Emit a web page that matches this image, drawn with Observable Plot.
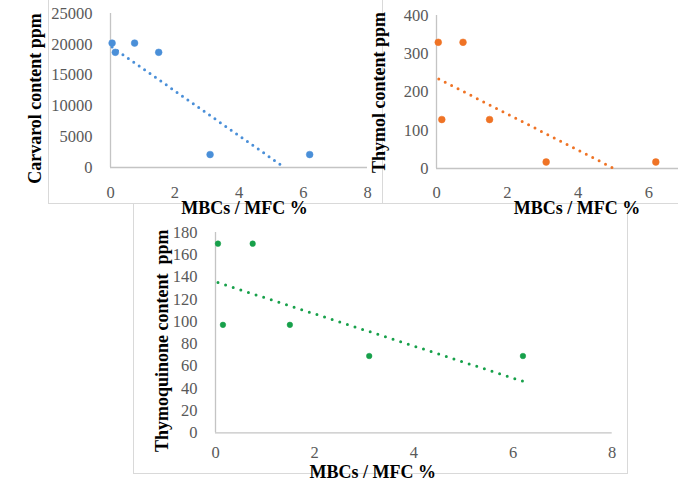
<!DOCTYPE html>
<html>
<head>
<meta charset="utf-8">
<script src="https://cdn.jsdelivr.net/npm/d3@7"></script>
<script src="https://cdn.jsdelivr.net/npm/@observablehq/plot@0.6"></script>
<style>
  html, body { margin: 0; padding: 0; background: #fff; }
  #wrap { position: relative; width: 678px; height: 478px; overflow: hidden; background: #fff; }
  .frame { position: absolute; border: 1px solid #d9d9d9; box-sizing: border-box; }
  .panel { position: absolute; }
  .panel svg { max-width: none !important; }
</style>
</head>
<body>
<div id="wrap">
  <div class="frame" style="left:48px; top:-5px; width:335px; height:209px;"></div>
  <div class="frame" style="left:382px; top:-5px; width:320px; height:209px;"></div>
  <div class="frame" style="left:133px; top:203px; width:495px; height:271px;"></div>
  <div class="panel" id="p1" style="left:0px; top:0px; width:382px; height:220px;"></div>
  <div class="panel" id="p2" style="left:350px; top:0px; width:369px; height:220px;"></div>
  <div class="panel" id="p3" style="left:130px; top:220px; width:500px; height:258px;"></div>
</div>
<script>
// ---- data ----
const mbc = [0.05, 0.15, 0.75, 1.5, 3.1, 6.2];            // MBCs / MFC %
const carvacrol = [20200, 18700, 20200, 18700, 2100, 2100]; // ppm
const thymol = [330, 128, 330, 128, 17, 17];               // ppm
const thymoquinone = [170, 97, 170, 97, 69, 69];            // ppm

// linear trendline end points (as drawn in the reference)
const carvacrolTrendX = [0.05, 5.42];
const carvacrolTrendY = [19550, 0];
const thymolTrendX = [0.065, 5.02];
const thymolTrendY = [234, 0];
const thymoquinoneTrendX = [0.05, 6.22];
const thymoquinoneTrendY = [135, 46];

const xTicksFull = [0, 2, 4, 6, 8];
const xTicksCut = [0, 2, 4, 6];
const carvacrolTicks = [0, 5000, 10000, 15000, 20000, 25000];
const thymolTicks = [0, 100, 200, 300, 400];
const thymoquinoneTicks = [0, 20, 40, 60, 80, 100, 120, 140, 160, 180];

const xTitle = "MBCs / MFC %";
const titles = ["Carvarol content ppm", "Thymol content ppm", "Thymoquinone content  ppm"];
const colors = ["#4a8fd8", "#ef7325", "#17a04a"];

function panel(o) {
  const pts = o.x.map((d, i) => ({x: d, y: o.y[i]}));
  const trend = o.tx.map((d, i) => ({x: d, y: o.ty[i]}));
  return Plot.plot({
    width: o.width, height: o.height,
    marginLeft: o.ml, marginRight: o.mr, marginTop: o.mt, marginBottom: o.mb,
    style: {fontFamily: "'Liberation Serif', 'Times New Roman', serif", fontSize: "16.5px", color: "#595959", background: "transparent", overflow: "visible", maxWidth: "none"},
    x: {domain: [0, 8]},
    y: {domain: o.yDomain},
    marks: [
      Plot.ruleY([0], {stroke: "#c4c4c4", strokeWidth: 1.3}),
      Plot.ruleX([0], {stroke: "#c4c4c4", strokeWidth: 1.3}),
      Plot.axisX({ticks: o.xTicks, tickSize: 0, tickPadding: o.xPad, label: null, tickFormat: d => String(d)}),
      Plot.axisY({ticks: o.yTicks, tickSize: 0, tickPadding: o.yPad, label: null, tickFormat: d => String(d)}),
      Plot.line(trend, {x: "x", y: "y", stroke: o.color, strokeWidth: 3, strokeDasharray: o.dash, strokeLinecap: "round"}),
      Plot.dot(pts, {x: "x", y: "y", r: o.r, fill: o.color, stroke: o.color, strokeWidth: 0.5}),
      Plot.text([xTitle], {frameAnchor: "bottom", dx: o.xtdx, dy: o.xtdy, lineAnchor: "middle", fontSize: 18, fontWeight: "bold", fill: "#000"}),
      Plot.text([o.title], {frameAnchor: "left", rotate: -90, dx: o.ytdx, dy: o.ytdy, textAnchor: "middle", lineAnchor: "middle", fontSize: 18, fontWeight: "bold", fill: "#000"})
    ]
  });
}

document.getElementById("p1").append(panel({
  x: mbc, y: carvacrol, tx: carvacrolTrendX, ty: carvacrolTrendY,
  width: 382, height: 220, ml: 110, mr: 15, mt: 13, mb: 53,
  yDomain: [0, 25000], xTicks: xTicksFull, yTicks: carvacrolTicks,
  xPad: 18.5, yPad: 18, color: colors[0], dash: "0 6.6", r: 3.4,
  title: titles[0], xtdx: 5.5, xtdy: 41, ytdx: -75, ytdy: 8
}));

document.getElementById("p2").append(panel({
  x: mbc, y: thymol, tx: thymolTrendX, ty: thymolTrendY,
  width: 369, height: 220, ml: 86, mr: 0, mt: 15, mb: 52,
  yDomain: [0, 400], xTicks: xTicksCut, yTicks: thymolTicks,
  xPad: 18, yPad: 8, color: colors[1], dash: "0 7.2", r: 3.4,
  title: titles[1], xtdx: -1, xtdy: 40, ytdx: -57, ytdy: 0.5
}));

document.getElementById("p3").append(panel({
  x: mbc, y: thymoquinone, tx: thymoquinoneTrendX, ty: thymoquinoneTrendY,
  width: 500, height: 258, ml: 85, mr: 18.3, mt: 12, mb: 45.7,
  yDomain: [0, 180], xTicks: xTicksFull, yTicks: thymoquinoneTicks,
  xPad: 13, yPad: 18, color: colors[2], dash: "0 8", r: 2.8,
  title: titles[2], xtdx: -41, xtdy: 39.4, ytdx: -53.3, ytdy: 8
}));
</script>
</body>
</html>
